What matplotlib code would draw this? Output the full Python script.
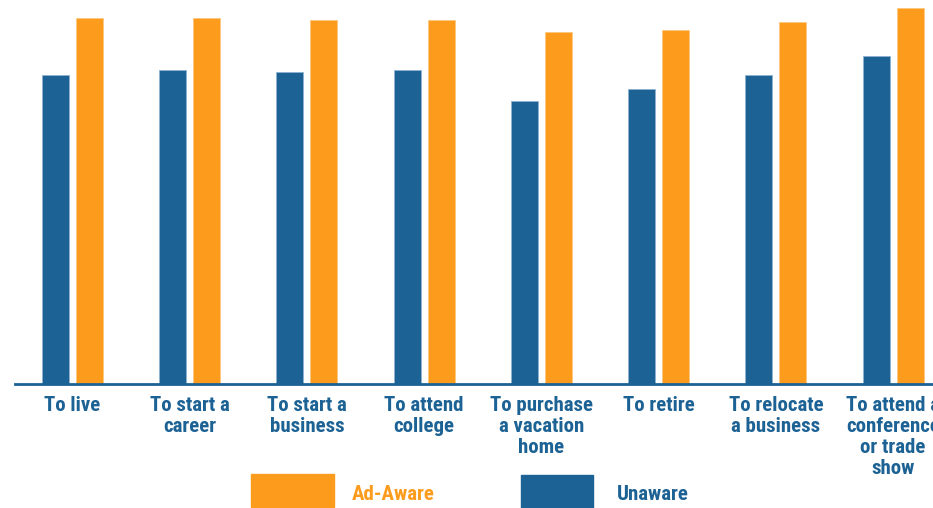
import matplotlib.pyplot as plt
import numpy as np
from matplotlib.patches import Rectangle
from matplotlib import font_manager

# data (% of respondents)
categories = ["To live", "To start a\ncareer", "To start a\nbusiness", "To attend\ncollege",
              "To purchase\na vacation\nhome", "To retire", "To relocate\na business",
              "To attend a\nconference\nor trade\nshow"]
unaware = [77.1, 78.4, 77.9, 78.4, 70.6, 73.6, 77.1, 81.9]
ad_aware = [91.4, 91.4, 90.9, 90.9, 87.9, 88.4, 90.4, 93.9]

blue = "#1c6294"
orange = "#fd9c1c"

# look for a bold condensed face
fp = None
pref = ["Liberation Sans Narrow", "Roboto Condensed", "Open Sans Condensed",
        "Noto Sans Condensed", "DejaVu Sans Condensed", "Noto Sans", "DejaVu Sans", "Open Sans"]
cands = []
for f in font_manager.fontManager.ttflist:
    bold = (f.weight in ("bold", 700, 600, "semibold", "demibold")) or "Bold" in f.fname
    cond = ("condensed" in str(f.stretch)) or "Condensed" in f.fname or "Narrow" in f.fname
    if bold and cond and "Italic" not in f.fname and "Oblique" not in f.fname:
        rank = pref.index(f.name) if f.name in pref else 99
        if "Extra" in f.fname or "Semi" in f.fname:
            rank += 50
        cands.append((rank, f.fname))
if cands:
    cands.sort()
    fp = font_manager.FontProperties(fname=cands[0][1], size=15)
else:
    fp = font_manager.FontProperties(family="DejaVu Sans", weight="bold", size=13)

fig = plt.figure(figsize=(9.33, 5.08), dpi=100)
ax = fig.add_axes([15/933, 124.5/508, 1 - 15/933, 383.5/508])

x = np.arange(len(categories))
w = 0.23
ax.bar(x - 0.145, unaware, w, color=blue, edgecolor="#8fb3cf", linewidth=0.6)
ax.bar(x + 0.145, ad_aware, w, color=orange, edgecolor="#fcc77e", linewidth=0.6)

ax.set_xlim(-0.49, 7.34)
ax.set_ylim(0, 95.875)
ax.set_yticks([])
ax.set_xticks(x)
ax.set_xticklabels(categories, fontproperties=fp, color=blue, linespacing=1.13)
ax.tick_params(axis="x", length=0, pad=9)
for s in ["top", "right", "left"]:
    ax.spines[s].set_visible(False)
ax.spines["bottom"].set_color(blue)
ax.spines["bottom"].set_linewidth(2)

# legend
fig.patches.append(Rectangle((251/933, 1/508), 83/933, 33/508, transform=fig.transFigure,
                             color=orange, clip_on=False))
fig.text(352/933, 13/508, "Ad-Aware", color=orange, fontproperties=fp,
         va="center", ha="left")
fig.patches.append(Rectangle((521/933, 0), 72/933, 33/508, transform=fig.transFigure,
                             color=blue, clip_on=False))
fig.text(617/933, 13/508, "Unaware", color=blue, fontproperties=fp,
         va="center", ha="left")

fig.savefig("out.png", dpi=100)
